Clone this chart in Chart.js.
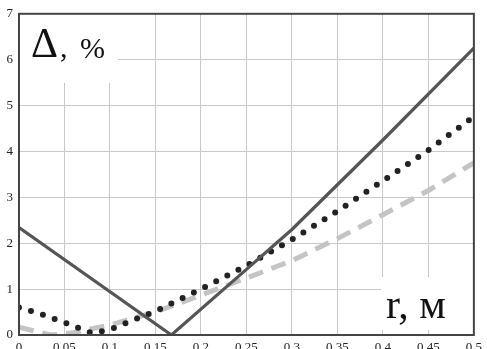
<!DOCTYPE html>
<html>
<head>
<meta charset="utf-8">
<script src="https://cdn.jsdelivr.net/npm/chart.js@4"></script>
<style>
  html, body { margin: 0; padding: 0; background: #fff; overflow: hidden; }
</style>
</head>
<body>
<canvas id="deltaChart" width="487" height="349"></canvas>
<script>
// r, m
const solidR = [0, 0.1675, 0.25, 0.3, 0.4, 0.5];
const solidDelta = [2.34, 0, 1.43, 2.3, 4.25, 6.25];

const dottedR = [0, 0.025, 0.05, 0.08, 0.1, 0.15, 0.2, 0.25, 0.3, 0.35, 0.4, 0.45, 0.5];
const dottedDelta = [0.6, 0.45, 0.27, 0.04, 0.12, 0.52, 1.0, 1.51, 2.08, 2.7, 3.36, 4.03, 4.76];

const dashedR = [0, 0.035, 0.06, 0.1, 0.15, 0.2, 0.25, 0.3, 0.35, 0.4, 0.45, 0.5];
const dashedDelta = [0.17, 0.0, 0.05, 0.22, 0.5, 0.87, 1.24, 1.62, 2.1, 2.62, 3.15, 3.75];

const xTicks = [0, 0.05, 0.1, 0.15, 0.2, 0.25, 0.3, 0.35, 0.4, 0.45, 0.5];
const yTicks = [0, 1, 2, 3, 4, 5, 6, 7];

function pts(xs, ys) {
  return xs.map((x, i) => ({ x: x, y: ys[i] }));
}

const tickFont = { family: "Liberation Serif", size: 13 };

const labelsPlugin = {
  id: "labels",
  beforeDatasetsDraw(chart) {
    const c = chart.ctx;
    c.save();
    c.fillStyle = "#fff";
    c.fillRect(20, 14, 98, 69);
    c.fillRect(381, 277, 96, 53);
    c.fillStyle = "#111";
    c.textBaseline = "alphabetic";
    c.font = '42px "Liberation Serif"';
    c.fillText("\u0394", 31, 57);
    c.font = '30px "Liberation Serif"';
    c.fillText(",", 60, 57);
    c.fillText("%", 80, 58);
    c.font = '42px "Liberation Serif"';
    c.fillText("r, \u043c", 386, 318);
    c.restore();
  },
  afterDraw(chart) {
    const a = chart.chartArea;
    const c = chart.ctx;
    c.save();
    c.strokeStyle = "#444";
    c.lineWidth = 2;
    c.strokeRect(a.left, a.top, a.right - a.left, a.bottom - a.top);
    c.restore();
  }
};

new Chart(document.getElementById("deltaChart"), {
  type: "line",
  data: {
    datasets: [
      {
        data: pts(solidR, solidDelta),
        borderColor: "#555",
        borderWidth: 3.2,
        pointRadius: 0
      },
      {
        data: pts(dottedR, dottedDelta),
        borderColor: "#222",
        borderWidth: 6,
        borderDash: [0, 12.5],
        borderCapStyle: "round",
        pointRadius: 0
      },
      {
        data: pts(dashedR, dashedDelta),
        borderColor: "#c4c4c4",
        borderWidth: 5,
        borderDash: [15, 9],
        pointRadius: 0
      }
    ]
  },
  options: {
    responsive: false,
    animation: false,
    devicePixelRatio: 1,
    layout: { padding: { top: 13, right: 9, left: 0, bottom: 0 } },
    plugins: { legend: { display: false }, tooltip: { enabled: false } },
    scales: {
      x: {
        type: "linear",
        min: 0,
        max: 0.5,
        afterFit: s => { s.height = 14; },
        afterBuildTicks: s => { s.ticks = xTicks.map(v => ({ value: v })); },
        grid: { color: "#c8c8c8", drawTicks: false },
        border: { color: "#444", width: 2 },
        ticks: {
          font: tickFont,
          color: "#222",
          padding: 5,
          maxRotation: 0,
          autoSkip: false,
          callback: v => String(+v.toFixed(2))
        }
      },
      y: {
        min: 0,
        max: 7,
        afterFit: s => { s.width = 19; },
        afterBuildTicks: s => { s.ticks = yTicks.map(v => ({ value: v })); },
        grid: { color: "#c8c8c8", drawTicks: false },
        border: { color: "#444", width: 2 },
        ticks: { font: tickFont, color: "#222", padding: 6 }
      }
    }
  },
  plugins: [labelsPlugin]
});
</script>
</body>
</html>
